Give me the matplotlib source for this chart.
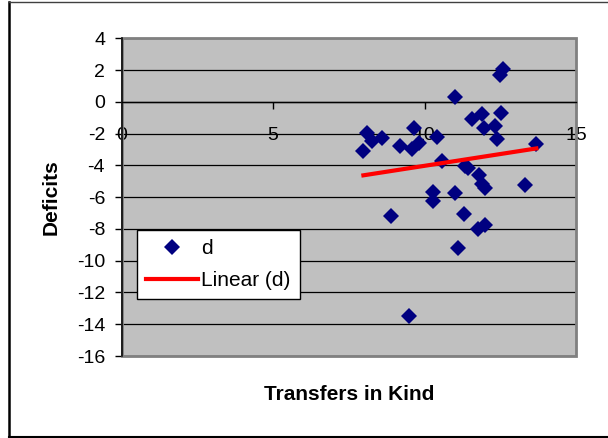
import numpy as np
import matplotlib
matplotlib.use("Agg")
import matplotlib.pyplot as plt
from matplotlib.patches import Rectangle
from matplotlib.lines import Line2D

plt.rcParams['font.family'] = ['Liberation Sans', 'DejaVu Sans']
plt.rcParams['axes.unicode_minus'] = False

# transfers in kind vs deficits
transfers = [8.09, 7.98, 8.26, 8.60, 9.19, 9.60, 9.66, 9.82, 10.40, 10.58,
             10.28, 10.28, 8.90, 11.00, 11.00, 11.30, 11.09, 9.47, 11.35, 11.42,
             11.58, 11.90, 11.96, 12.31, 12.38, 12.51, 12.50, 12.60, 11.80, 11.90,
             11.99, 11.77, 11.99, 13.30, 13.69]
deficits = [-1.94, -3.09, -2.47, -2.25, -2.78, -2.99, -1.62, -2.57, -2.19, -3.72,
            -5.66, -6.24, -7.19, 0.33, -5.76, -7.08, -9.18, -13.48, -4.04, -4.19,
            -1.10, -0.79, -1.62, -1.52, -2.36, -0.68, 1.67, 2.09, -4.63, -5.19,
            -5.40, -8.03, -7.77, -5.25, -2.67]

x_ticks = [0, 5, 10, 15]
y_ticks = list(range(-16, 5, 2))

x = np.array(transfers)
y = np.array(deficits)
slope, intercept = np.polyfit(x, y, 1)
fit_x = np.array([x.min(), x.max()])
fit_y = slope * fit_x + intercept

fig = plt.figure(figsize=(6.08, 4.38), dpi=100)
ax = fig.add_axes([0.2002, 0.1872, 0.7472, 0.7254])
ax.set_facecolor('#C0C0C0')

ax.plot(x, y, linestyle='none', marker='D', markersize=8.2,
        markerfacecolor='#000080', markeredgewidth=0, label='d', zorder=3)
ax.plot(fit_x, fit_y, color='#FF0000', linewidth=3, label='Linear (d)', zorder=4)

ax.set_xlim(0, 15)
ax.set_ylim(-16, 4)
ax.set_xticks(x_ticks)
ax.set_yticks(y_ticks)
ax.yaxis.grid(True, color='black', linewidth=0.9)
ax.set_axisbelow(True)

# plot area frame, grey except for the value axis
ax.add_patch(Rectangle((0, 0), 1, 1, transform=ax.transAxes, fill=False,
                       edgecolor='#808080', linewidth=2, zorder=1, clip_on=False))
for side in ['top', 'right']:
    ax.spines[side].set_visible(False)
ax.spines['left'].set_color('black')
ax.spines['left'].set_linewidth(1.1)
ax.spines['bottom'].set_position(('data', 0))
ax.spines['bottom'].set_color('black')
ax.spines['bottom'].set_linewidth(1.0)

ax.tick_params(axis='y', direction='out', length=5, width=1, pad=7, labelsize=14)
ax.tick_params(axis='x', direction='out', length=5, width=1, pad=13, labelsize=14)

ax.set_xlabel('Transfers in Kind', fontsize=15, fontweight='bold', va='top')
ax.xaxis.set_label_coords(0.5, -0.09)
ax.set_ylabel('Deficits', fontsize=15, fontweight='bold')
ax.yaxis.set_label_coords(-0.135, 0.5)

leg = ax.legend(loc='upper left', bbox_to_anchor=(136.7 / 608, 1 - 230 / 438),
                bbox_transform=fig.transFigure, fontsize=15, frameon=True,
                fancybox=False, edgecolor='black', framealpha=1,
                handlelength=2.5, handletextpad=0.15, borderpad=0.45,
                labelspacing=0.6, borderaxespad=0)
leg.get_frame().set_linewidth(1.0)

# outer chart border: left, top and bottom edges
x0, y0, y1 = 8.5 / 608, 1.5 / 438, 1 - 2 / 438
fig.add_artist(Line2D([x0, x0], [y0, y1], transform=fig.transFigure,
                      color='black', linewidth=1.8))
fig.add_artist(Line2D([x0, 1], [y1, y1], transform=fig.transFigure,
                      color='#404040', linewidth=1.0))
fig.add_artist(Line2D([x0, 1], [y0, y0], transform=fig.transFigure,
                      color='black', linewidth=1.5))

fig.savefig('out.png', dpi=100, facecolor='white')
